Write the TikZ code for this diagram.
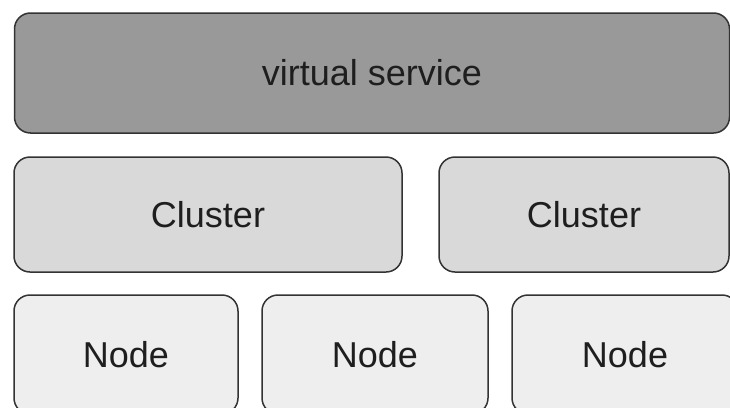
\documentclass[tikz,border=0pt]{standalone}
\usepackage{fontspec}
\setmainfont{Liberation Sans}
\definecolor{edgec}{HTML}{333333}
\definecolor{topc}{HTML}{999999}
\definecolor{clc}{HTML}{D9D9D9}
\definecolor{ndc}{HTML}{EEEEEE}
\definecolor{txtc}{HTML}{1E1E1E}
\tikzset{
  box/.style={draw=edgec, line width=1.5pt, rounded corners=16pt, inner sep=0pt,
    text=txtc, font=\fontsize{36}{40}\selectfont, anchor=center},
}
\begin{document}
\begin{tikzpicture}[x=1pt,y=-1pt]
\useasboundingbox (0,0) rectangle (730,407);
\clip (0,0) rectangle (730,407);
\fill[white] (0,0) rectangle (730,407);
\node[box, fill=topc, minimum width=715pt, minimum height=120pt] (vs) at (372,73) {virtual service};
\node[box, fill=clc, minimum width=388pt, minimum height=115pt] (c1) at (208,214.5) {Cluster};
\node[box, fill=clc, minimum width=290pt, minimum height=115pt] (c2) at (584,214.5) {Cluster};
\node[box, fill=ndc, minimum width=224pt, minimum height=119pt] (n1) at (126,354.5) {Node};
\node[box, fill=ndc, minimum width=226pt, minimum height=119pt] (n2) at (375,354.5) {Node};
\node[box, fill=ndc, minimum width=226pt, minimum height=119pt] (n3) at (625,354.5) {Node};
\end{tikzpicture}
\end{document}
